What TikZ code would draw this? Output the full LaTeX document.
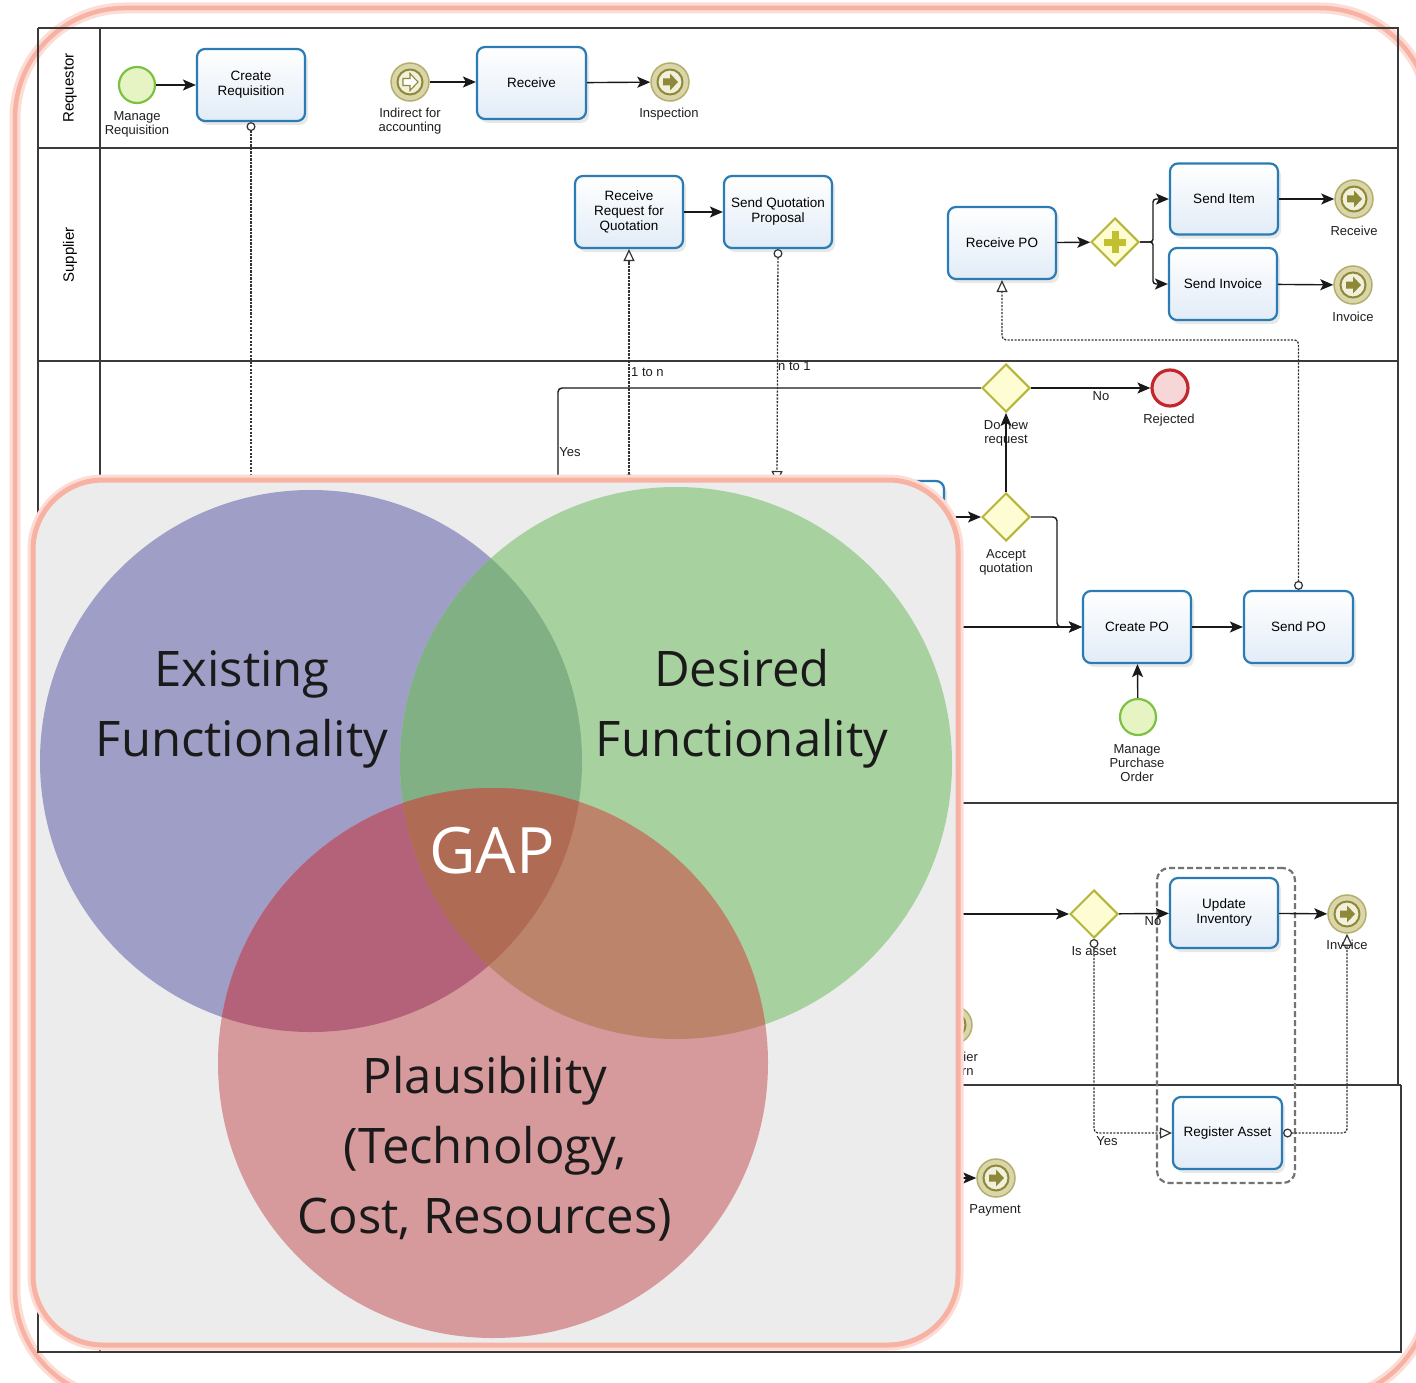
\documentclass[tikz,border=0pt]{standalone}
\usepackage{fontspec}
\setmainfont{Liberation Sans}
\newfontfamily\vennfont{Open Sans}
\usetikzlibrary{shapes.geometric,arrows.meta,shadows}

\definecolor{lanec}{HTML}{3A3A3A}
\definecolor{taskb}{HTML}{2B7BB5}
\definecolor{taskf}{HTML}{E2ECF7}
\definecolor{startb}{HTML}{7DC142}
\definecolor{startf}{HTML}{E6F4C4}
\definecolor{evo}{HTML}{B5AF6E}
\definecolor{evk}{HTML}{DAD6AA}
\definecolor{evi}{HTML}{8E8938}
\definecolor{evf}{HTML}{F1F0DC}
\definecolor{gwb}{HTML}{B5B53A}
\definecolor{gwf}{HTML}{FDFCD2}
\definecolor{plusc}{HTML}{C2C030}
\definecolor{rejb}{HTML}{C1272D}
\definecolor{rejf}{HTML}{F6D6D6}
\definecolor{pinkb}{HTML}{F7B2A3}
\definecolor{pinkg}{HTML}{FCDCD4}
\definecolor{vennbg}{HTML}{ECECEC}
\definecolor{cblue}{HTML}{9E9EC6}
\definecolor{cgreen}{HTML}{A8D1A0}
\definecolor{cred}{HTML}{D69A9C}
\definecolor{cbg}{HTML}{80B084}
\definecolor{cbr}{HTML}{B3627A}
\definecolor{cgr}{HTML}{BD846C}
\definecolor{call}{HTML}{B06B55}
\definecolor{venntxt}{HTML}{1A1A1A}

\tikzset{
  lane/.style={draw=lanec, line width=1.5pt},
  task/.style={rectangle, rounded corners=8pt, draw=taskb, line width=2.2pt,
    top color=white, bottom color=taskf, minimum width=108pt, minimum height=72pt,
    inner sep=2pt, align=center, font=\fontsize{13.5}{15}\selectfont,
    drop shadow={opacity=0.18, shadow xshift=3pt, shadow yshift=-4pt}},
  startev/.style={circle, draw=startb, line width=2.2pt, fill=startf,
    minimum size=36pt, inner sep=0pt},
  msgev/.style={circle, minimum size=38pt, inner sep=0pt, draw=evo, line width=1.5pt, fill=evk,
    path picture={
      \begin{scope}[shift={(path picture bounding box.center)}]
        \draw[evi, line width=2pt, fill=evf] (0,0) circle[radius=12.5pt];
        \fill[evi] (-7,-3.5) -- (0,-3.5) -- (0,-8.5) -- (8,0) -- (0,8.5) -- (0,3.5) -- (-7,3.5) -- cycle;
      \end{scope}}},
  catchev/.style={circle, minimum size=38pt, inner sep=0pt, draw=evo, line width=1.5pt, fill=evk,
    path picture={
      \begin{scope}[shift={(path picture bounding box.center)}]
        \draw[evi, line width=2pt, fill=evf] (0,0) circle[radius=12.5pt];
        \draw[evi, line width=1.1pt, fill=white] (-7,-3.5) -- (0,-3.5) -- (0,-8.5) -- (8,0) -- (0,8.5) -- (0,3.5) -- (-7,3.5) -- cycle;
      \end{scope}}},
  gw/.style={diamond, aspect=1, minimum width=48pt, minimum height=48pt, inner sep=0pt,
    draw=gwb, line width=2pt, fill=gwf},
  pargw/.style={gw, path picture={
      \begin{scope}[shift={(path picture bounding box.center)}]
        \fill[plusc] (-3.5,-11) rectangle (3.5,11);
        \fill[plusc] (-11,-3.5) rectangle (11,3.5);
      \end{scope}}},
  rejev/.style={circle, minimum size=36pt, inner sep=0pt, draw=rejb, line width=3.2pt, fill=rejf},
  lbl/.style={font=\fontsize{13}{14}\selectfont, align=center, inner sep=0pt, text=black!88},
  flow/.style={draw=black!90, line width=1.4pt, -{Stealth[length=13pt,width=11pt,inset=3pt]}},
  plainflow/.style={draw=black!90, line width=1.4pt},
  msgline/.style={draw=black!80, line width=1.3pt, dash pattern=on 2.2pt off 1.3pt},
  mtips/.style={{Circle[open,length=9pt,fill=white,line width=1.2pt]}-{Triangle[open,length=12pt,width=11pt,fill=white,line width=1.2pt]}},
  grp/.style={draw=black!55, line width=2.2pt, dash pattern=on 6pt off 3pt, rounded corners=12pt},
  vtxt/.style={font=\vennfont\fontsize{49}{60}\selectfont, text=venntxt, anchor=base, inner sep=0pt},
}

\begin{document}
\begin{tikzpicture}[x=1pt,y=-1pt]
\useasboundingbox (0,0) rectangle (1416,1383);
\clip (0,0) rectangle (1416,1383);
\fill[white] (0,0) rectangle (1416,1383);

% outer pink frame
\draw[pinkg, line width=11pt, rounded corners=110pt] (15,8) rectangle (1430,1400);
\draw[pinkb, line width=4.5pt, rounded corners=110pt] (15,8) rectangle (1430,1400);

% pool and lanes
\draw[lane] (38,28) -- (1398,28) -- (1398,1085);
\draw[lane] (38,28) -- (38,1352) -- (1401,1352) -- (1401,1085);
\draw[lane] (100,28) -- (100,1352);
\draw[lane] (38,148) -- (1398,148);
\draw[lane] (38,361) -- (1398,361);
\draw[lane] (38,803) -- (1398,803);
\draw[lane] (38,1085) -- (1401,1085);
\node[rotate=90, font=\fontsize{15}{15}\selectfont] (lreq) at (70,88) {Requestor};
\node[rotate=90, font=\fontsize{15}{15}\selectfont] (lsup) at (70,255) {Supplier};

% group
\node[grp, minimum width=138pt, minimum height=315pt] (grp) at (1226,1025.5) {};

% hidden coordinates (behind the overlay)
\coordinate (hcr) at (251,495);
\coordinate (hm1) at (629,483);
\coordinate (hm2) at (777,483);
\coordinate (hy) at (558,500);
\coordinate (hc1) at (920,627);
\coordinate (hc2) at (920,914);
\coordinate (hc3) at (920,1178);

% requestor lane
\node[startev] (ms) at (137,85) {};
\node[lbl] (lms) at (137,124) {Manage\\Requisition};
\node[task] (creq) at (251,85) {Create\\Requisition};
\node[catchev] (iacc) at (410,82) {};
\node[lbl] (liacc) at (410,121) {Indirect for\\accounting};
\node[task, minimum width=109pt] (recv) at (531.5,83) {Receive};
\node[msgev] (insp) at (670,82) {};
\node[lbl] (linsp) at (669,114) {Inspection};

% supplier lane
\node[task] (rrq) at (629,212) {Receive\\Request for\\Quotation};
\node[task] (sqp) at (778,212) {Send Quotation\\Proposal};
\node[task] (rpo) at (1002,243) {Receive PO};
\node[pargw] (pgw) at (1115,242) {};
\node[task, minimum height=71pt] (sitem) at (1224,199) {Send Item};
\node[task] (sinv) at (1223,284) {Send Invoice};
\node[msgev] (erecv) at (1354,199) {};
\node[lbl] (lerecv) at (1354,231) {Receive};
\node[msgev] (einv1) at (1353,285) {};
\node[lbl] (leinv1) at (1353,317) {Invoice};

% purchasing lane
\node[task] (ht) at (890,517) {};
\node[gw] (ngw) at (1006,388) {};
\node[lbl] (lngw) at (1006,433) {Do new\\request};
\node[rejev] (rej) at (1170,388) {};
\node[lbl] (lrej) at (1169,420) {Rejected};
\node[gw] (agw) at (1006,517) {};
\node[lbl] (lagw) at (1006,562) {Accept\\quotation};
\node[task] (cpo) at (1137,627) {Create PO};
\node[task, minimum width=109pt] (spo) at (1298.5,627) {Send PO};
\node[startev] (mpo) at (1138,717) {};
\node[lbl] (lmpo) at (1137,763) {Manage\\Purchase\\Order};

% receiving lane
\node[msgev] (sret) at (953,1025) {};
\node[lbl] (lsret) at (954,1064) {Supplier\\Return};
\node[gw] (isa) at (1094,914) {};
\node[lbl] (lisa) at (1094,951) {Is asset};
\node[task, minimum height=70pt] (upd) at (1224,913) {Update\\Inventory};
\node[msgev] (einv2) at (1347,914) {};
\node[lbl] (leinv2) at (1347,945) {Invoice};
\node[task, minimum width=109pt] (reg) at (1227.5,1133) {Register Asset};

% accounting lane
\node[msgev] (pay) at (996,1178) {};
\node[lbl] (lpay) at (995,1210) {Payment};

% sequence flows
\draw[flow] (ms) -- (creq);
\draw[flow] (iacc.east) -- (iacc.east -| recv.west);
\draw[flow] (recv) -- (insp);
\draw[flow] (rrq) -- (sqp);
\draw[flow] (rpo) -- (pgw);
\draw[flow, rounded corners=3pt] (pgw.east) -- ++(13,0) |- (sitem.west);
\draw[flow, rounded corners=3pt] (pgw.east) -- ++(13,0) |- (sinv.west);
\draw[flow] (sitem) -- (erecv);
\draw[flow] (sinv) -- (einv1);
\draw[plainflow, rounded corners=4pt] (ngw.west) -| (hy);
\draw[flow] (ngw) -- (rej);
\draw[flow] (agw) -- (ngw);
\draw[flow] (ht) -- (agw);
\draw[flow, rounded corners=4pt] (agw.east) -- ++(26,0) |- (cpo.west);
\draw[flow] (hc1) -- (cpo.west);
\draw[flow] (cpo) -- (spo);
\draw[flow] (mpo) -- (cpo);
\draw[flow] (hc2) -- (isa);
\draw[flow] (isa) -- (upd);
\draw[flow] (upd) -- (einv2);
\draw[flow] (hc3) -- (pay);

% message flows
\draw[msgline, {Circle[open,length=9pt,fill=white,line width=1.2pt]}-] (creq.south) -- (hcr);
\draw[msgline, mtips] (hm1) -- (rrq.south);
\draw[msgline, mtips] (sqp.south) -- (hm2);
\draw[msgline, rounded corners=4pt, mtips] (spo.north) -- ++(0,-250) -| (rpo.south);
\draw[msgline, rounded corners=4pt, mtips] (isa.south) |- (reg.west);
\draw[msgline, rounded corners=4pt, mtips] (reg.east) -| (einv2.south);

% flow labels
\node[lbl, anchor=west] (l1n) at (631,372) {1 to n};
\node[lbl, anchor=west] (ln1) at (778,366) {n to 1};
\node[lbl] (lyes1) at (570,452) {Yes};
\node[lbl] (lno1) at (1101,396) {No};
\node[lbl] (lno2) at (1153,921) {No};
\node[lbl] (lyes2) at (1107,1141) {Yes};

% ===== Venn overlay =====
\draw[pinkg, line width=11pt, rounded corners=70pt] (33,480) rectangle (958,1345);
\draw[pinkb, line width=5pt, fill=vennbg, rounded corners=70pt] (33,480) rectangle (958,1345);

\fill[cblue] (311,761) circle[radius=271pt];
\fill[cgreen] (676,763) circle[radius=276pt];
\fill[cred] (493,1063) circle[radius=275pt];
\begin{scope}
  \clip (311,761) circle[radius=271pt];
  \fill[cbg] (676,763) circle[radius=276pt];
\end{scope}
\begin{scope}
  \clip (311,761) circle[radius=271pt];
  \fill[cbr] (493,1063) circle[radius=275pt];
\end{scope}
\begin{scope}
  \clip (676,763) circle[radius=276pt];
  \fill[cgr] (493,1063) circle[radius=275pt];
\end{scope}
\begin{scope}
  \clip (311,761) circle[radius=271pt];
  \clip (676,763) circle[radius=276pt];
  \fill[call] (493,1063) circle[radius=275pt];
\end{scope}

\node[vtxt] (t1) at (242,686) {Existing};
\node[vtxt] (t2) at (242,756) {Functionality};
\node[vtxt] (t3) at (742,686) {Desired};
\node[vtxt] (t4) at (742,756) {Functionality};
\node[vtxt, font=\vennfont\fontsize{64}{70}\selectfont, text=white] (gap) at (492,873) {GAP};
\node[vtxt] (t5) at (485,1093) {Plausibility};
\node[vtxt] (t6) at (485,1163) {(Technology,};
\node[vtxt] (t7) at (485,1233) {Cost, Resources)};
\end{tikzpicture}
\end{document}
